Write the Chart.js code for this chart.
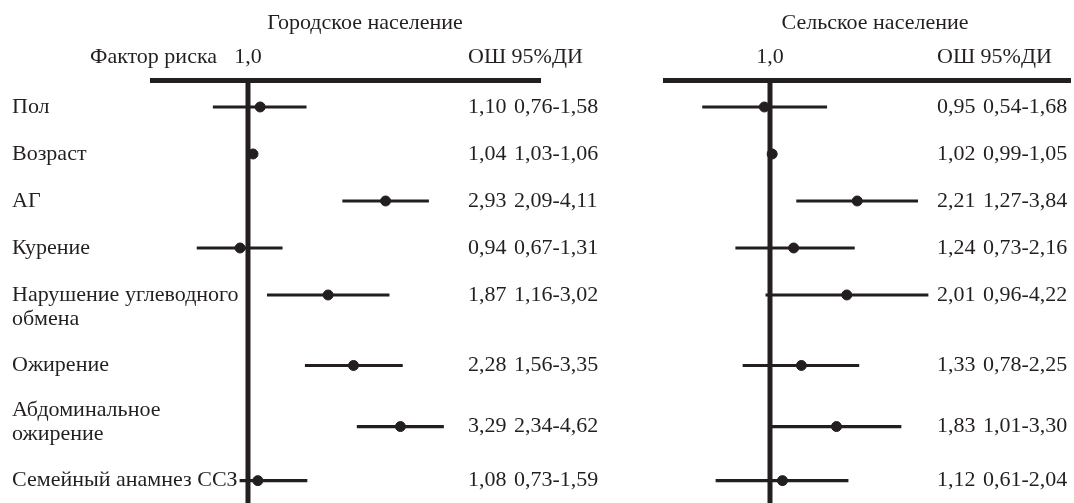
<!DOCTYPE html>
<html>
<head>
<meta charset="utf-8">
<script src="https://cdn.jsdelivr.net/npm/chart.js@4.4.1/dist/chart.umd.min.js"></script>
<style>
  body { margin: 0; background: #fff; }
  #wrap { position: relative; width: 1074px; height: 503px; }
  #left { position: absolute; left: 0; top: 0; }
  #right { position: absolute; left: 620px; top: 0; }
</style>
</head>
<body>
<div id="wrap">
  <canvas id="left" width="620" height="503"></canvas>
  <canvas id="right" width="454" height="503"></canvas>
</div>
<script>
// risk factors, label lines as drawn
const factors = [
  ['Пол'],
  ['Возраст'],
  ['АГ'],
  ['Курение'],
  ['Нарушение углеводного', 'обмена'],
  ['Ожирение'],
  ['Абдоминальное', 'ожирение'],
  ['Семейный анамнез ССЗ']
];

// urban population: odds ratio and 95% CI
const urbanOR   = [1.10, 1.04, 2.93, 0.94, 1.87, 2.28, 3.29, 1.08];
const urbanLow  = [0.76, 1.03, 2.09, 0.67, 1.16, 1.56, 2.34, 0.73];
const urbanHigh = [1.58, 1.06, 4.11, 1.31, 3.02, 3.35, 4.62, 1.59];

// rural population
const ruralOR   = [0.95, 1.02, 2.21, 1.24, 2.01, 1.33, 1.83, 1.12];
const ruralLow  = [0.54, 0.99, 1.27, 0.73, 0.96, 0.78, 1.01, 0.61];
const ruralHigh = [1.68, 1.05, 3.84, 2.16, 4.22, 2.25, 3.30, 2.04];

const fmt = v => v.toFixed(2).replace('.', ',');

// layout: row slots on the y axis (two-line labels take more room)
const rowSlot   = [0, 1, 2, 3, 4, 5.5, 6.8, 7.95];
const labelLift = [0, 0, 0, 0, 0, 0, 0.34, 0];
const ink = '#231f20';
const font = '"Liberation Serif", "Times New Roman", serif';
const fs = 22;

function buildPanel(canvasId, cfg) {
  const datasets = [];
  // reference line at OR = 1
  datasets.push({
    type: 'line',
    data: [{x: 1, y: -0.7}, {x: 1, y: 8.6}],
    borderColor: ink, borderWidth: 5, pointRadius: 0
  });
  cfg.or.forEach((v, i) => {
    datasets.push({
      type: 'line',
      data: [{x: cfg.low[i], y: rowSlot[i]}, {x: cfg.high[i], y: rowSlot[i]}],
      borderColor: ink, borderWidth: 3.2, pointRadius: 0
    });
  });
  datasets.push({
    type: 'scatter',
    data: cfg.or.map((v, i) => ({x: v, y: rowSlot[i]})),
    backgroundColor: ink, borderColor: ink, pointRadius: 5
  });

  const textPlugin = {
    id: 'forestText',
    afterDatasetsDraw(chart) {
      const ctx = chart.ctx;
      const ys = chart.scales.y;
      ctx.save();
      ctx.font = fs + 'px ' + font;
      ctx.fillStyle = ink;
      ctx.textBaseline = 'middle';
      ctx.textAlign = 'center';
      ctx.fillText(cfg.title, cfg.titleX, 23);
      ctx.textAlign = 'left';
      if (cfg.headLeft) ctx.fillText(cfg.headLeft, cfg.headLeftX, 57);
      ctx.fillText('ОШ 95%ДИ', cfg.colX, 57);
      cfg.or.forEach((v, i) => {
        const y = ys.getPixelForValue(rowSlot[i]);
        ctx.fillText(fmt(v), cfg.colX, y);
        ctx.fillText(fmt(cfg.low[i]) + '-' + fmt(cfg.high[i]), cfg.colX + 46, y);
        if (cfg.showLabels) {
          const y0 = ys.getPixelForValue(rowSlot[i] - labelLift[i]);
          factors[i].forEach((line, k) => {
            const w = ctx.measureText(line).width;
            ctx.fillStyle = '#fff';
            ctx.fillRect(12, y0 + k * 24 - 11, w + 2, 22);
            ctx.fillStyle = ink;
            ctx.fillText(line, 12, y0 + k * 24);
          });
        }
      });
      ctx.restore();
    }
  };

  return new Chart(document.getElementById(canvasId), {
    data: { datasets },
    options: {
      responsive: false,
      animation: false,
      layout: { padding: cfg.padding, autoPadding: false },
      plugins: { legend: { display: false }, tooltip: { enabled: false } },
      scales: {
        x: {
          type: 'logarithmic',
          position: 'top',
          min: cfg.xMin, max: cfg.xMax,
          grid: { display: false, drawTicks: false },
          border: { display: true, width: 5, color: ink },
          afterBuildTicks: s => { s.ticks = [{value: 1}]; },
          afterFit: s => { s.height = 40; },
          ticks: {
            color: ink, padding: 10, maxRotation: 0,
            font: { family: font, size: fs },
            callback: () => '1,0'
          }
        },
        y: {
          type: 'linear', reverse: true, display: false,
          min: -0.574, max: 8.426
        }
      }
    },
    plugins: [textPlugin]
  });
}

buildPanel('left', {
  title: 'Городское население', titleX: 365,
  headLeft: 'Фактор риска', headLeftX: 90,
  colX: 468, showLabels: true,
  or: urbanOR, low: urbanLow, high: urbanHigh,
  xMin: 0.4724, xMax: 9.79,
  padding: { top: 40, left: 152, right: 80, bottom: 0 }
});

buildPanel('right', {
  title: 'Сельское население', titleX: 255,
  headLeft: null,
  colX: 317, showLabels: false,
  or: ruralOR, low: ruralLow, high: ruralHigh,
  xMin: 0.385, xMax: 15.29,
  padding: { top: 40, left: 45, right: 4, bottom: 0 }
});
</script>
</body>
</html>
